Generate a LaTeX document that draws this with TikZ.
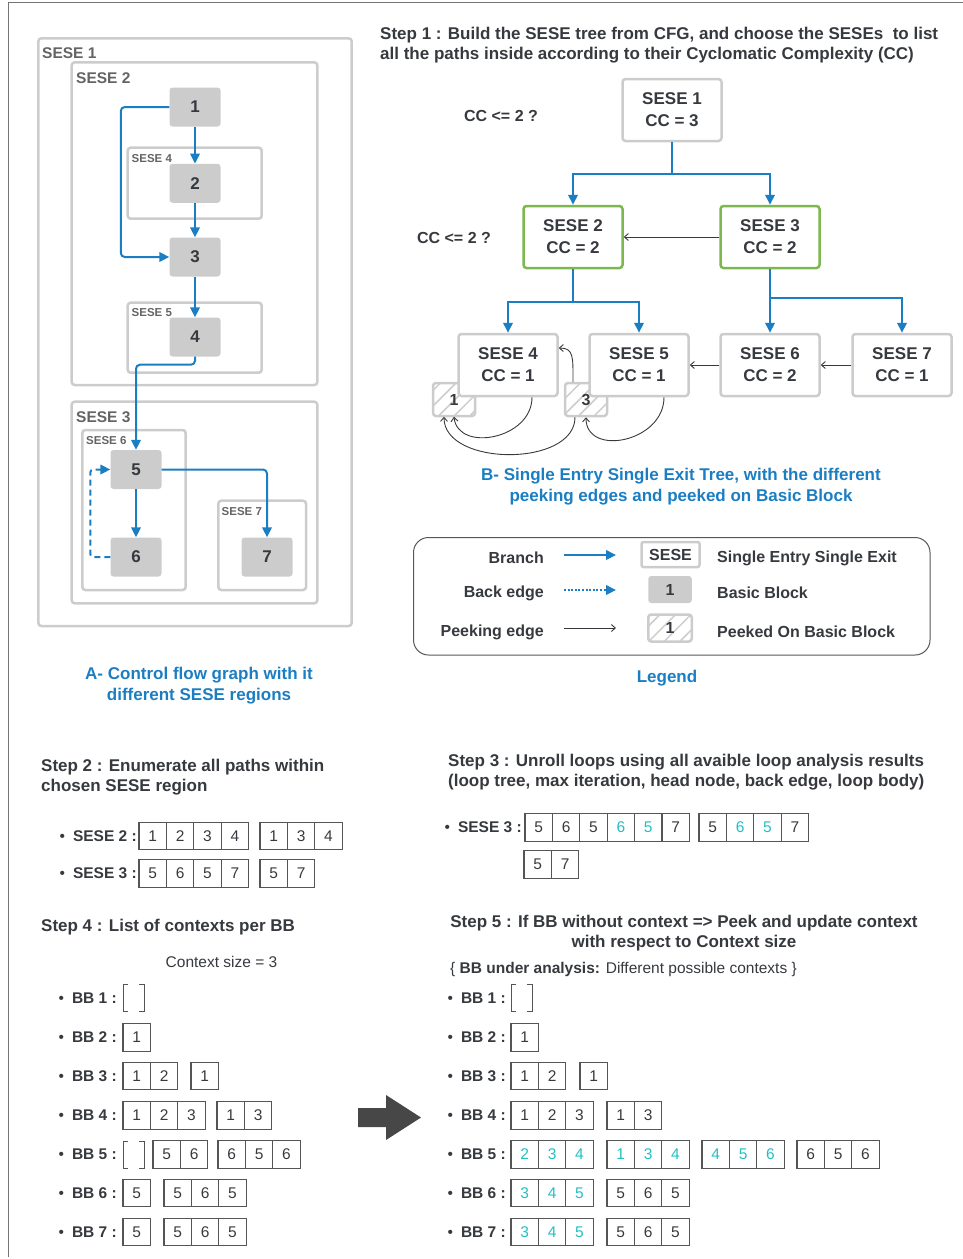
\documentclass[tikz,border=0pt]{standalone}
\usepackage{fontspec}
\setmainfont{Liberation Sans}
\usetikzlibrary{arrows.meta,patterns.meta,calc}
\definecolor{txt}{HTML}{36393E}
\definecolor{lbl}{HTML}{646464}
\definecolor{bl}{HTML}{1B7EC2}
\definecolor{gr}{HTML}{7CB84E}
\definecolor{bbf}{HTML}{CCCCCC}
\definecolor{cy}{HTML}{22BFC3}
\definecolor{cellc}{HTML}{555555}
\definecolor{arr}{HTML}{474747}
\newcommand\cyn{\color{cy}}
\newcommand\cellgroup[4]{\foreach \v [count=\i from 0] in {#4}{\node[cell] (#1-\i) at ({#2+13.7+27.4*\i},#3) {\v};}}
\newcommand\brk[2]{%
 \draw[cellc, line width=1pt] ({#1+5},{#2-13.5}) -- ({#1},{#2-13.5}) -- ({#1},{#2+13.5}) -- ({#1+5},{#2+13.5});
 \draw[cellc, line width=1pt] ({#1+16},{#2-13.5}) -- ({#1+21},{#2-13.5}) -- ({#1+21},{#2+13.5}) -- ({#1+16},{#2+13.5});}
\newcommand\bul{{\mdseries\textbullet}\hspace{8pt}}
\begin{document}
\begin{tikzpicture}[x=1pt,y=-1pt,
 every node/.style={text=txt},
 region/.style={draw=bbf, line width=2.5pt, rounded corners=3pt},
 bigl/.style={font=\fontsize{15.5}{18}\selectfont\bfseries, text=lbl, anchor=west, inner sep=0pt},
 smalll/.style={font=\fontsize{11.5}{13}\selectfont\bfseries, text=lbl, anchor=west, inner sep=0pt},
 bb/.style={fill=bbf, rounded corners=3pt, minimum width=51pt, minimum height=39pt, inner sep=0pt, font=\fontsize{17}{20}\selectfont\bfseries},
 br/.style={draw=bl, line width=2pt, -{Triangle[length=10pt,width=9.5pt]}},
 tree/.style={draw=bbf, fill=white, line width=2.5pt, rounded corners=3pt, minimum width=99pt, minimum height=62pt, inner sep=0pt, align=center, font=\fontsize{17}{22}\selectfont\bfseries},
 peek/.style={draw=txt, line width=0.9pt, -{Straight Barb[length=4pt,width=7pt]}},
 hatch/.style={draw=bbf, line width=2.5pt, rounded corners=3pt, pattern={Lines[angle=45,distance=11pt,line width=1.5pt]}, pattern color=bbf, minimum width=42pt, minimum height=33pt, inner sep=0pt, font=\fontsize{16}{18}\selectfont\bfseries},
 head/.style={font=\fontsize{17}{20}\selectfont\bfseries, align=left, inner sep=0pt, anchor=west},
 capt/.style={font=\fontsize{17}{21}\selectfont\bfseries, text=bl, align=center, inner sep=0pt},
 leg/.style={font=\fontsize{16}{18}\selectfont\bfseries, inner sep=0pt},
 cell/.style={draw=cellc, line width=1.2pt, minimum width=27.4pt, minimum height=27.5pt, inner sep=0pt, font=\fontsize{15.5}{17}\selectfont},
 rowl/.style={anchor=east, inner sep=0pt, font=\fontsize{15.5}{18}\selectfont\bfseries}
]
\useasboundingbox (0,0) rectangle (963,1259);
\draw[txt!70, line width=1pt] (8,1257) -- (8,2) -- (963,2);

% ---------- Panel A : CFG ----------
\draw[region] (38.3,38.3) rectangle (351.7,626);
\node[bigl] (lS1) at (42,52.7) {SESE 1};
\draw[region] (71.7,62.3) rectangle (317.3,385);
\node[bigl] (lS2) at (76,78.3) {SESE 2};
\draw[region] (127.7,147.7) rectangle (261.7,218.7);
\node[smalll] (lS4) at (131.5,159) {SESE 4};
\draw[region] (127.7,302.7) rectangle (261.7,372.7);
\node[smalll] (lS5) at (131.5,312.7) {SESE 5};
\draw[region] (71.7,401.7) rectangle (317.3,603.3);
\node[bigl] (lS3) at (76,416.7) {SESE 3};
\draw[region] (82.3,430) rectangle (185.7,590);
\node[smalll] (lS6) at (86,440.7) {SESE 6};
\draw[region] (218.3,500.7) rectangle (306,590);
\node[smalll] (lS7) at (221.5,511.7) {SESE 7};

\node[bb] (n1) at (195,107) {1};
\node[bb] (n2) at (195,183.3) {2};
\node[bb] (n3) at (195,257) {3};
\node[bb] (n4) at (195,337) {4};
\node[bb] (n5) at (136,469.5) {5};
\node[bb] (n6) at (136,557) {6};
\node[bb] (n7) at (267,557) {7};

\draw[br] (n1.south) -- (n2.north);
\draw[br] (n2.south) -- (n3.north);
\draw[br, rounded corners=4pt] (n1.west) -- ++(-48.5,0) |- (n3.west);
\draw[br] (n3.south) -- (n4.north);
\draw[br, rounded corners=4pt] (n4.south) -- ++(0,8) -| (n5.north);
\draw[br] (n5.south) -- (n6.north);
\draw[br, rounded corners=4pt] (n5.east) -| (n7.north);
\draw[br, dash pattern=on 6pt off 4pt, rounded corners=3pt] (n6.west) -- ++(-20,0) |- (n5.west);

\node[capt] (capA) at (199,685.5) {A- Control flow graph with it\\different SESE regions};

% ---------- Panel B : SESE tree ----------
\node[head] (step1) at (380,45) {Step 1 : Build the SESE tree from CFG, and choose the SESEs~ to list\\all the paths inside according to their Cyclomatic Complexity (CC)};
\node[leg] (cc1) at (501,116) {CC <= 2 ?};
\node[leg] (cc2) at (454,238) {CC <= 2 ?};

\node[tree] (t1) at (672,110) {SESE 1\\CC = 3};
\node[tree, draw=gr] (t2) at (573,237) {SESE 2\\CC = 2};
\node[tree, draw=gr] (t3) at (770,237) {SESE 3\\CC = 2};
\node[hatch] (p1) at (454,399.5) {1};
\node[hatch] (p3) at (586,399.5) {3};
\node[tree] (t4) at (508,365) {SESE 4\\CC = 1};
\node[tree] (t5) at (639,365) {SESE 5\\CC = 1};
\node[tree] (t6) at (770,365) {SESE 6\\CC = 2};
\node[tree] (t7) at (902,365) {SESE 7\\CC = 1};

\draw[br] (t1.south) -- ++(0,32) -| (t2.north);
\draw[br] (t1.south) -- ++(0,32) -| (t3.north);
\draw[br] (t2.south) -- ++(0,33) -| (t4.north);
\draw[br] (t2.south) -- ++(0,33) -| (t5.north);
\draw[br] (t3.south) -- (t6.north);
\draw[br] (t3.south) -- ++(0,29) -| (t7.north);

\draw[peek] (t3.west) -- (t2.east);
\draw[peek] (t6.west) -- (t5.east);
\draw[peek] (t7.west) -- (t6.east);

\draw[peek] ($(t4.south)+(24,0)$) .. controls +(0,42) and +(4,36) .. (p1.south);
\draw[peek] ($(p3.south)+(-11,0)$) .. controls +(0,50) and +(0,50) .. ($(p1.south)+(-10,0)$);
\draw[peek] ($(p3.north)+(-13,0)$) .. controls +(0,-25) and +(15,0) .. ($(t4.east)+(0,-17)$);
\draw[peek] ($(t5.south)+(25,0)$) .. controls +(0,45) and +(0,40) .. (p3.south);

\node[capt] (capB) at (681,486.5) {B- Single Entry Single Exit Tree, with the different\\peeking edges and peeked on Basic Block};

% ---------- Legend ----------
\draw[txt!85, line width=1pt, rounded corners=15pt] (413.5,537.5) rectangle (930,655);
\node[leg, anchor=east] (lg1) at (544,558) {Branch};
\node[leg, anchor=east] (lg2) at (544,593) {Back edge};
\node[leg, anchor=east] (lg3) at (544,632) {Peeking edge};
\coordinate (a1s) at (564,555); \coordinate (a1e) at (616,555);
\coordinate (a2s) at (564,590); \coordinate (a2e) at (616,590);
\coordinate (a3s) at (564,628); \coordinate (a3e) at (616,628);
\draw[br] (a1s) -- (a1e);
\draw[br, dash pattern=on 2pt off 1.6pt] (a2s) -- (a2e);
\draw[peek] (a3s) -- (a3e);
\node[draw=bbf, line width=2.5pt, rounded corners=2pt, minimum width=58pt, minimum height=25pt, inner sep=0pt, font=\fontsize{16}{18}\selectfont\bfseries] (lgS) at (670.5,554.5) {SESE};
\node[bb, minimum width=43.5pt, minimum height=27pt, font=\fontsize{16}{18}\selectfont\bfseries] (lgB) at (670,589.5) {1};
\node[hatch, minimum width=43.5pt, minimum height=27pt] (lgP) at (670,628) {1};
\node[leg, anchor=west] (lr1) at (717,558) {Single Entry Single Exit};
\node[leg, anchor=west] (lr2) at (717,593) {Basic Block};
\node[leg, anchor=west] (lr3) at (717,632) {Peeked On Basic Block};
\node[capt] (capL) at (667,678) {Legend};

% ---------- Step 2 ----------
\node[head] (step2) at (41,777) {Step 2 : Enumerate all paths within\\chosen SESE region};
\node[rowl] (r2a) at (137,836) {\bul SESE 2 :};
\cellgroup{c2a}{139}{836}{1,2,3,4}
\cellgroup{c2b}{260}{836}{1,3,4}
\node[rowl] (r2b) at (137,873.5) {\bul SESE 3 :};
\cellgroup{c3a}{139}{873.5}{5,6,5,7}
\cellgroup{c3b}{260}{873.5}{5,7}

% ---------- Step 3 ----------
\node[head] (step3) at (448,772) {Step 3 : Unroll loops using all avaible loop analysis results\\(loop tree, max iteration, head node, back edge, loop body)};
\node[rowl] (r3a) at (522,827.5) {\bul SESE 3 :};
\cellgroup{u1}{525}{827.5}{5,6,5,\cyn 6,\cyn 5,7}
\cellgroup{u2}{699}{827.5}{5,\cyn 6,\cyn 5,7}
\cellgroup{u3}{524}{864.5}{5,7}

% ---------- Step 4 ----------
\node[head] (step4) at (41,927) {Step 4 : List of contexts per BB};
\node[inner sep=0pt, font=\fontsize{15.5}{18}\selectfont] (csz) at (221.5,962) {Context size = 3};
\node[rowl] (b1) at (117,998) {\bul BB 1 :};
\brk{123}{998}
\node[rowl] (b2) at (117,1037.5) {\bul BB 2 :};
\cellgroup{l2a}{123}{1037.5}{1}
\node[rowl] (b3) at (117,1076) {\bul BB 3 :};
\cellgroup{l3a}{123}{1076}{1,2}
\cellgroup{l3b}{191}{1076}{1}
\node[rowl] (b4) at (117,1115.5) {\bul BB 4 :};
\cellgroup{l4a}{123}{1115.5}{1,2,3}
\cellgroup{l4b}{217}{1115.5}{1,3}
\node[rowl] (b5) at (117,1154.5) {\bul BB 5 :};
\brk{123}{1154.5}
\cellgroup{l5a}{153}{1154.5}{5,6}
\cellgroup{l5b}{218}{1154.5}{6,5,6}
\node[rowl] (b6) at (117,1193) {\bul BB 6 :};
\cellgroup{l6a}{123}{1193}{5}
\cellgroup{l6b}{164}{1193}{5,6,5}
\node[rowl] (b7) at (117,1232) {\bul BB 7 :};
\cellgroup{l7a}{123}{1232}{5}
\cellgroup{l7b}{164}{1232}{5,6,5}

% ---------- big arrow ----------
\fill[arr] (358,1108) -- (386,1108) -- (386,1095) -- (421,1117.5) -- (386,1140) -- (386,1127) -- (358,1127) -- cycle;

% ---------- Step 5 ----------
\node[head, align=center, anchor=center] (step5) at (684,933) {Step 5 : If BB without context => Peek and update context\\with respect to Context size};
\node[anchor=west, inner sep=0pt, font=\fontsize{15.5}{18}\selectfont] (sub5) at (450,969) {\{ \textbf{BB under analysis:} Different possible contexts \}};
\node[rowl] (c1) at (506,998) {\bul BB 1 :};
\brk{511}{998}
\node[rowl] (c2) at (506,1037.5) {\bul BB 2 :};
\cellgroup{r2a}{511}{1037.5}{1}
\node[rowl] (c3) at (506,1076) {\bul BB 3 :};
\cellgroup{r3a}{511}{1076}{1,2}
\cellgroup{r3b}{580}{1076}{1}
\node[rowl] (c4) at (506,1115.5) {\bul BB 4 :};
\cellgroup{r4a}{511}{1115.5}{1,2,3}
\cellgroup{r4b}{607}{1115.5}{1,3}
\node[rowl] (c5) at (506,1154.5) {\bul BB 5 :};
\cellgroup{r5a}{511}{1154.5}{\cyn 2,\cyn 3,\cyn 4}
\cellgroup{r5b}{607}{1154.5}{\cyn 1,\cyn 3,\cyn 4}
\cellgroup{r5c}{702}{1154.5}{\cyn 4,\cyn 5,\cyn 6}
\cellgroup{r5d}{797}{1154.5}{6,5,6}
\node[rowl] (c6) at (506,1193) {\bul BB 6 :};
\cellgroup{r6a}{511}{1193}{\cyn 3,\cyn 4,\cyn 5}
\cellgroup{r6b}{607}{1193}{5,6,5}
\node[rowl] (c7) at (506,1232) {\bul BB 7 :};
\cellgroup{r7a}{511}{1232}{\cyn 3,\cyn 4,\cyn 5}
\cellgroup{r7b}{607}{1232}{5,6,5}
\end{tikzpicture}
\end{document}
